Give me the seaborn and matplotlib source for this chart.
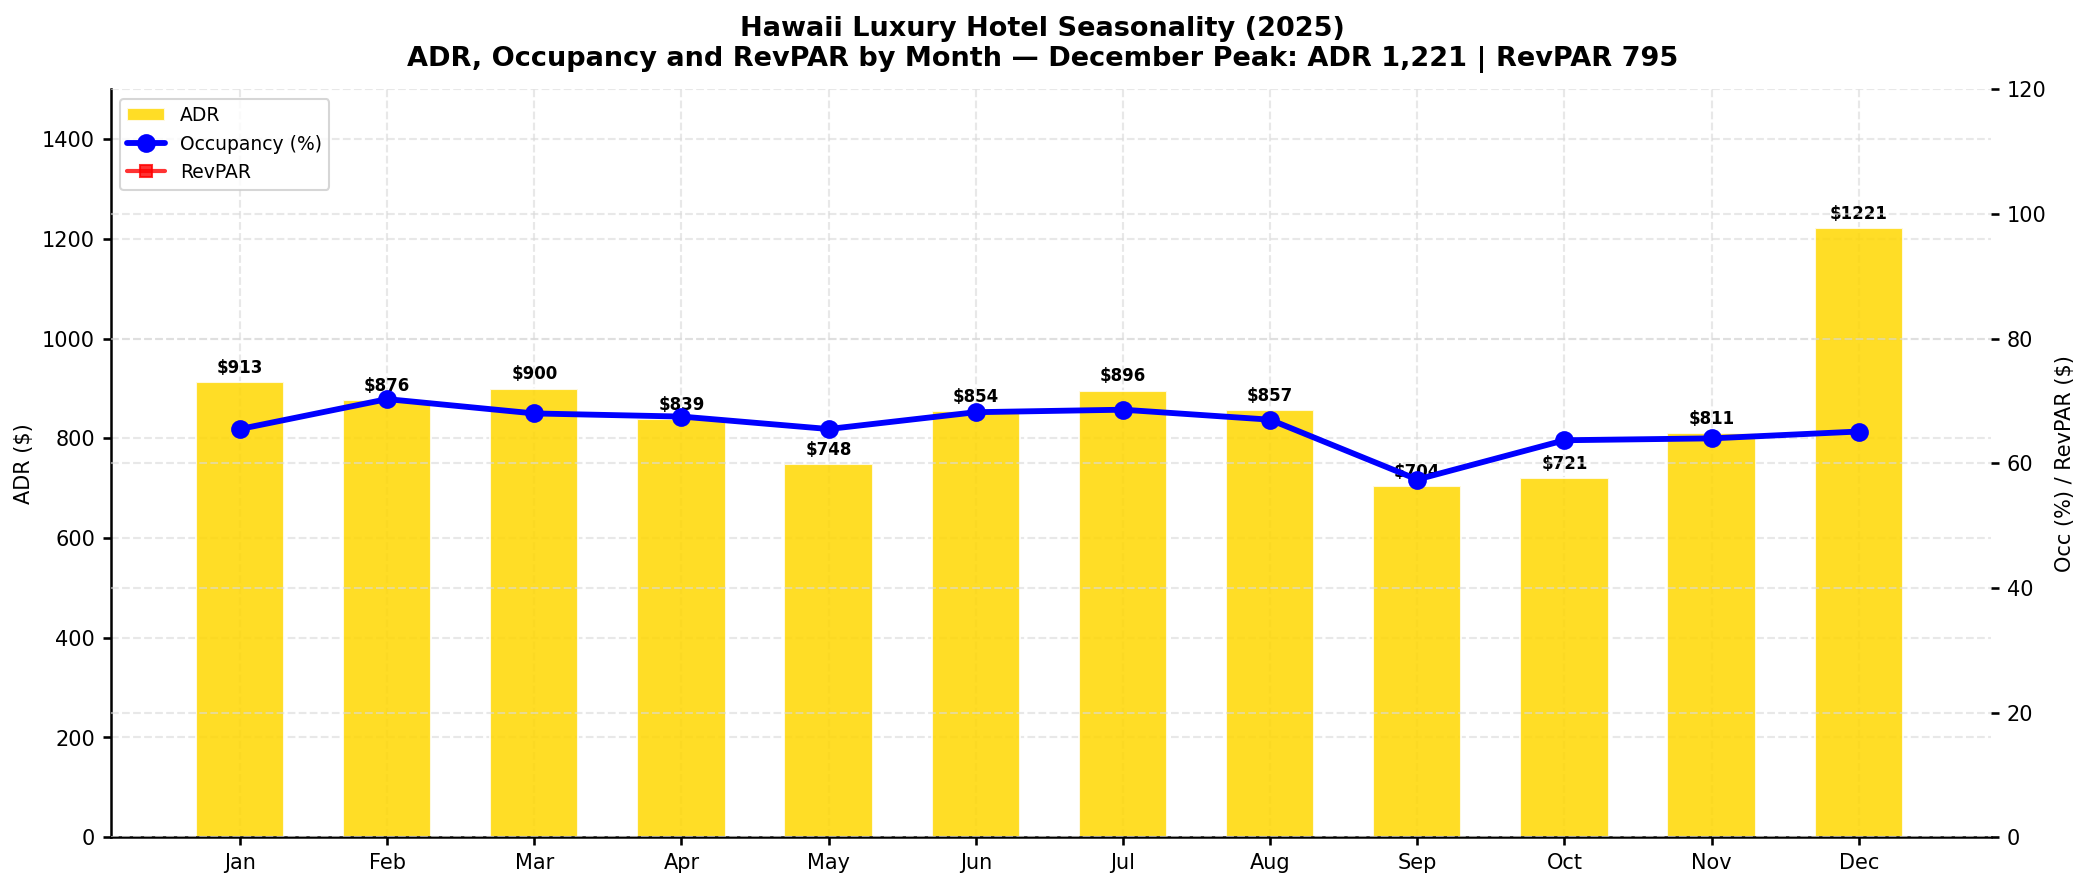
import matplotlib
matplotlib.use("Agg")
import matplotlib.pyplot as plt
import numpy as np
import seaborn as sns

sns.set(style='white')
plt.rcParams['font.family'] = ['DejaVu Sans']
plt.rcParams['text.color'] = 'black'
plt.rcParams['axes.labelcolor'] = 'black'
plt.rcParams['xtick.color'] = 'black'
plt.rcParams['ytick.color'] = 'black'

months = ["Jan", "Feb", "Mar", "Apr", "May", "Jun", "Jul", "Aug", "Sep", "Oct", "Nov", "Dec"]
adr = [913, 876, 900, 839, 748, 854, 896, 857, 704, 721, 811, 1221]
occupancy = [65.5, 70.3, 68.0, 67.5, 65.5, 68.2, 68.6, 67.0, 57.4, 63.7, 64.0, 65.1]
revpar = [598, 615, 612, 566, 490, 582, 615, 574, 404, 459, 519, 795]

fig, ax1 = plt.subplots(figsize=(13.9, 5.9), dpi=150)
fig.subplots_adjust(left=0.053, right=0.955, bottom=0.054, top=0.899)

x = np.arange(len(months))

ax1.bar(x, adr, width=0.6, color="gold", alpha=0.85, label="ADR", zorder=1)
for xi, v in zip(x, adr):
    ax1.annotate(f"${v}", (xi, v), xytext=(0, 2.5), textcoords="offset points",
                 ha="center", va="bottom", fontsize=8, fontweight="bold")

ax1.set_ylim(0, 1500)
ax1.set_xlim(-0.88, 11.9)
ax1.set_xticks(x)
ax1.set_xticklabels(months)
ax1.set_ylabel("ADR ($)", fontsize=10)
ax1.tick_params(axis='both', labelsize=10, left=True, bottom=True, length=4)
ax1.grid(True, linestyle="--", color="#d9d9d9", alpha=0.6, zorder=0)
ax1.spines['top'].set_visible(False)
ax1.spines['right'].set_visible(False)
ax1.spines['left'].set_color("black")
ax1.spines['bottom'].set_color("black")
ax1.spines['left'].set_linewidth(1.2)
ax1.spines['bottom'].set_linewidth(1.2)

ax2 = ax1.twinx()
l1, = ax2.plot(x, occupancy, color="blue", marker="o", linewidth=2.8, markersize=8,
               label="Occupancy (%)")
l2, = ax2.plot(x, revpar, color="red", marker="s", linewidth=2, markersize=6,
               alpha=0.8, label="RevPAR")
ax2.set_ylim(0, 120)
ax2.set_ylabel("Occ (%) / RevPAR ($)", fontsize=10)
ax2.tick_params(axis='y', labelsize=10, right=True, length=4)
ax2.grid(True, axis='y', linestyle="--", color="#d9d9d9", alpha=0.6)
for s in ax2.spines.values():
    s.set_visible(False)

# legend goes on the top axes so the line does not cover it
h1, lab1 = ax1.get_legend_handles_labels()
ax2.legend(h1 + [l1, l2], lab1 + ["Occupancy (%)", "RevPAR"], loc="upper left", fontsize=9)

fig.suptitle("Hawaii Luxury Hotel Seasonality (2025)\n"
             "ADR, Occupancy and RevPAR by Month — December Peak: ADR 1,221 | RevPAR 795",
             fontsize=13, fontweight="bold", y=0.982)

plt.savefig("out.png", dpi=150)
plt.close()
